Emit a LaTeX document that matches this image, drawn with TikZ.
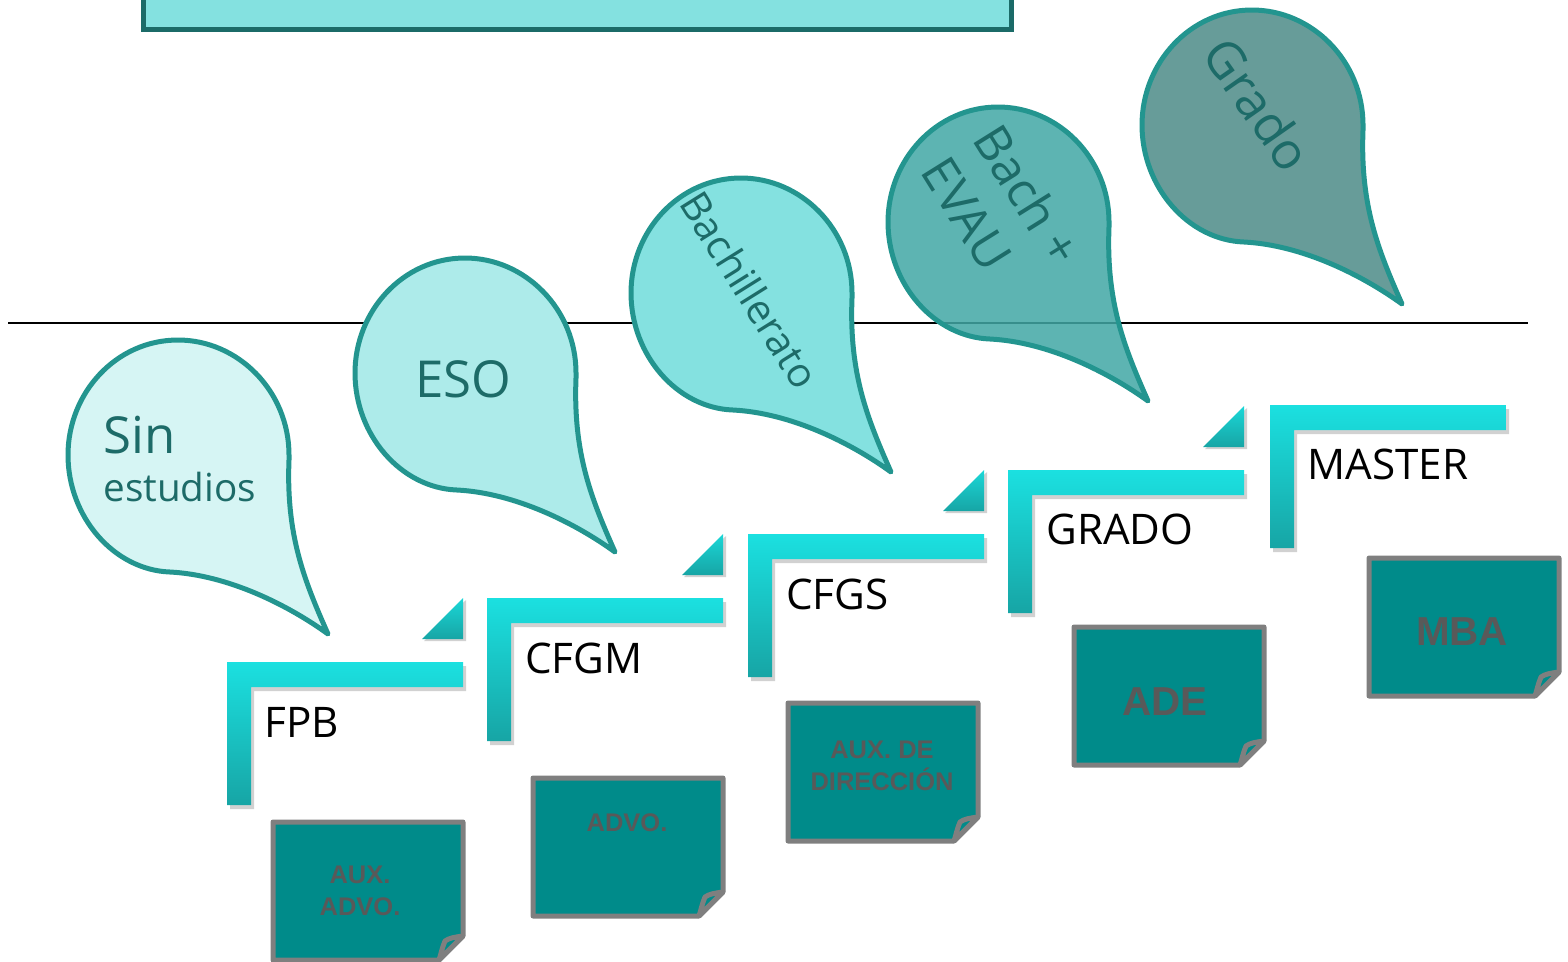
\documentclass[tikz,border=0pt]{standalone}
\usepackage{fontspec}
\setmainfont{Open Sans}
\newfontfamily\notefont{Liberation Sans}
\usetikzlibrary{positioning}

\definecolor{tdA}{HTML}{D6F5F4}
\definecolor{tdB}{HTML}{ADEBEA}
\definecolor{tdC}{HTML}{84E1E0}
\definecolor{tdD}{HTML}{41A7A5}
\definecolor{tdE}{HTML}{679C99}
\definecolor{tdedge}{HTML}{23958F}
\definecolor{tdtext}{HTML}{1D6B68}
\definecolor{stepcyan}{HTML}{1BE0E0}
\definecolor{stepteal}{HTML}{17A5A5}
\definecolor{notefill}{HTML}{008B8A}
\definecolor{noteedge}{HTML}{7F7F7F}
\definecolor{notegray}{HTML}{595959}
\definecolor{topfill}{HTML}{84E1E0}
\definecolor{topedge}{HTML}{1B6B68}

\begin{document}
\begin{tikzpicture}[
  x=0.02cm, y=-0.02cm,
  teardrop/.pic={
    \path[draw=tdedge,line width=0.1cm,line join=round,pic actions]
    (111,0) .. controls (111,-64) and (60,-115) .. (0,-115)
    .. controls (-62,-115) and (-110,-62) .. (-110,0)
    .. controls (-110,62) and (-64,115) .. (-8,117)
    .. controls (50,120) and (110,150) .. (150,179)
    .. controls (126,125) and (108,80) .. (111,5) -- cycle;
  },
  stair/.pic={
    \fill[black,opacity=.18] (3,4) -- (239,4) -- (239,29) -- (27,29) -- (27,147) -- (3,147) -- cycle;
    \path[top color=stepcyan,bottom color=stepteal]
    (0,0) -- (236,0) -- (236,25) -- (24,25) -- (24,143) -- (0,143) -- cycle;
  },
  corner/.pic={
    \fill[black,opacity=.18] (197,-21) -- (239,-21) -- (239,-62) -- cycle;
    \path[top color=stepcyan!85!stepteal,bottom color=stepteal]
    (195,-23) -- (236,-23) -- (236,-64) -- cycle;
  },
  note/.pic={
    \path[fill=notefill,draw=noteedge,line width=0.1cm,line join=round]
    (0,0) -- (190,0) -- (190,114) -- (166,138) -- (0,138) -- cycle;
    \path[fill=notefill,draw=noteedge,line width=0.1cm,line join=round]
    (190,114) .. controls (182,115) and (176,116) .. (172,119)
    .. controls (169,126) and (168,132) .. (166,138) -- cycle;
  },
  droptext/.style={text=tdtext,inner sep=0pt,font=\fontsize{28}{35}\selectfont},
  steplabel/.style={anchor=west,inner sep=0pt,font=\fontsize{24}{28}\selectfont},
  notetext/.style={text=notegray,inner sep=0pt,align=center,
    font=\notefont\bfseries\fontsize{14.5}{18}\selectfont},
  bignote/.style={notetext,font=\notefont\bfseries\fontsize{23}{26}\selectfont},
  ]
  \useasboundingbox (0,0) rectangle (1568,961);
  \draw[fill=topfill,draw=topedge,line width=0.1cm] (143,-40) rectangle (1011,29);
  \draw[line width=0.04cm] (8,323) -- (1528,323);

  \pic[fill=tdA] at (178,455) {teardrop};
  \pic[fill=tdB] at (465,373) {teardrop};
  \pic[fill=tdC] at (741,293) {teardrop};
  \pic[fill=tdD,fill opacity=.85] at (998,222) {teardrop};
  \pic[fill=tdE] at (1252,125) {teardrop};
  \node[droptext,anchor=west,align=left] (d1) at (103,459)
    {{\fontsize{29}{30}\selectfont Sin}\\[-8pt]{\fontsize{22}{27}\selectfont estudios}};
  \node[droptext,font=\fontsize{29}{35}\selectfont] (d2) at (463,379) {ESO};
  \node[droptext,font=\fontsize{23}{28}\selectfont,rotate=-58] (d3) at (750,290) {Bachillerato};
  \node[droptext,align=left,rotate=-58] (d4) at (1002,211) {Bach +\\EVAU};
  \node[droptext,font=\fontsize{29}{35}\selectfont,rotate=-55] (d5) at (1258,104) {Grado};

  \pic at (227,662) {stair};
  \pic at (487,598) {stair};
  \pic at (748,534) {stair};
  \pic at (1008,470) {stair};
  \pic at (1270,405) {stair};
  \pic at (227,662) {corner};
  \pic at (487,598) {corner};
  \pic at (748,534) {corner};
  \pic at (1008,470) {corner};
  \node[steplabel] (s1) at (264,722) {FPB};
  \node[steplabel] (s2) at (525,658) {CFGM};
  \node[steplabel] (s3) at (786,594) {CFGS};
  \node[steplabel] (s4) at (1046,529) {GRADO};
  \node[steplabel] (s5) at (1307,464) {MASTER};

  \pic at (273,822) {note};
  \pic at (533,778) {note};
  \pic at (788,703) {note};
  \pic at (1074,627) {note};
  \pic at (1369,558) {note};
  \node[notetext] (b1) at (360,891) {AUX.\\ADVO.};
  \node[notetext] (b2) at (627,823) {ADVO.};
  \node[notetext] (b3) at (882,766) {AUX. DE\\DIRECCIÓN};
  \node[bignote] (b4) at (1165,702) {ADE};
  \node[bignote] (b5) at (1462,632) {MBA};
\end{tikzpicture}
\end{document}
